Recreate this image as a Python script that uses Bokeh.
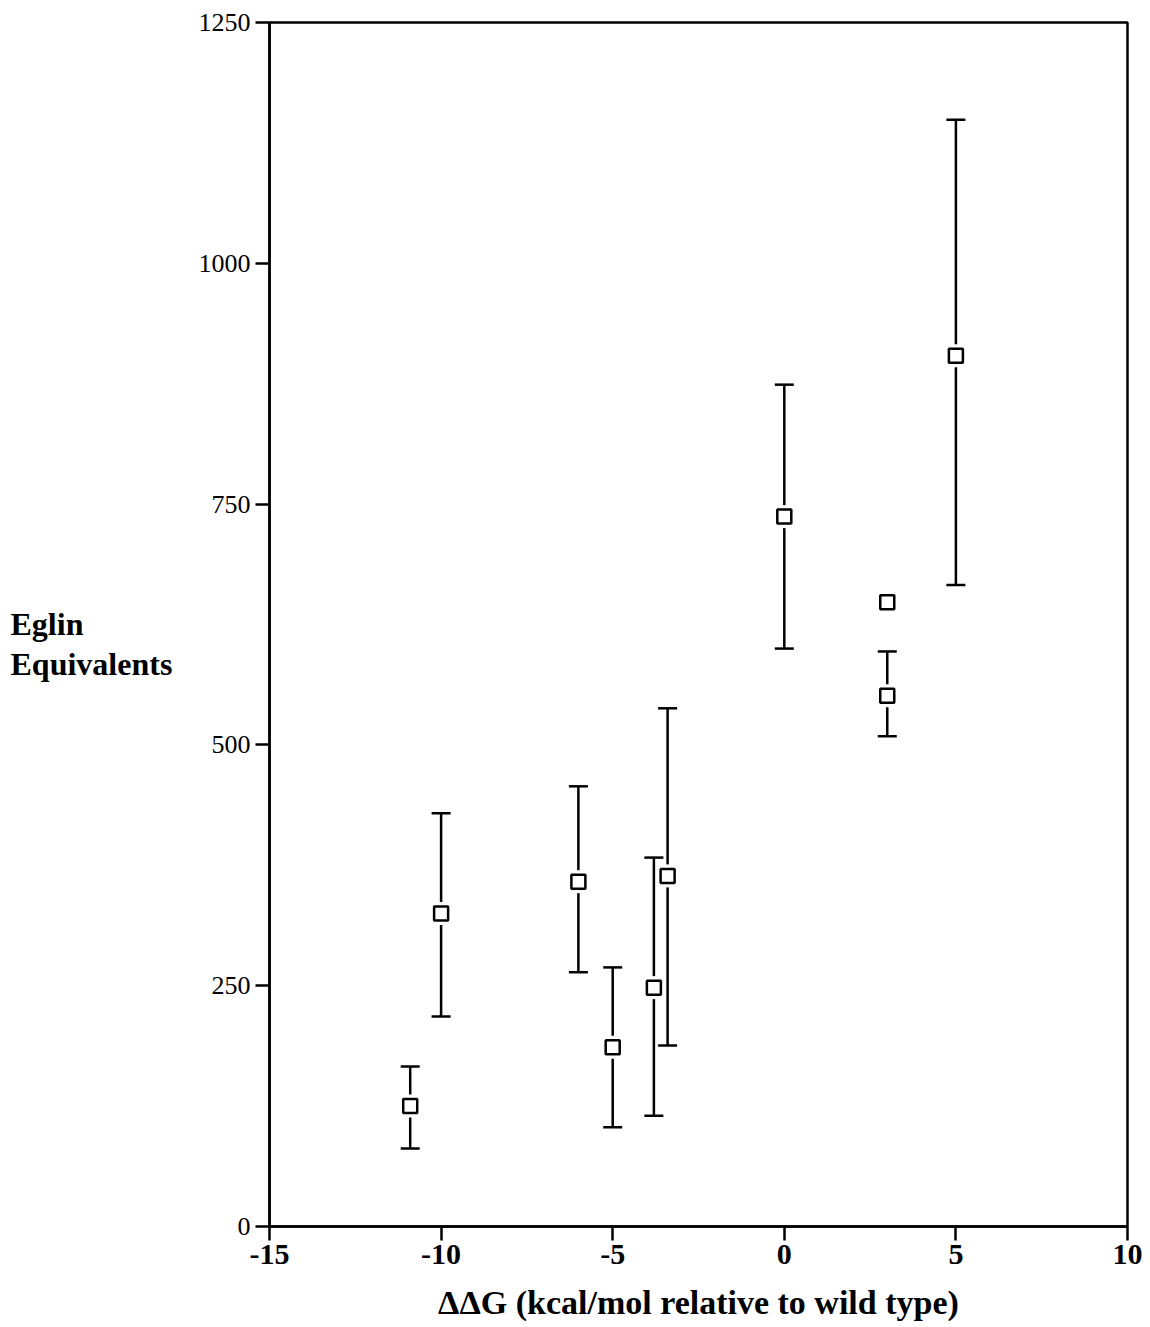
from bokeh.plotting import figure
from bokeh.layouts import row
from bokeh.models import Range1d, Whisker, ColumnDataSource, FixedTicker, TeeHead
from bokeh.core.properties import value
from bokeh.embed import file_html
from bokeh.resources import INLINE

# ---- data ----
ddg = [-10.9, -10.0, -6.0, -5.0, -3.8, -3.4, 0.0, 3.0, 3.0, 5.0]
eglin = [125, 325, 358, 186, 248, 364, 737, 648, 551, 904]
err_upper = [166, 429, 457, 269, 383, 538, 874, None, 597, 1149]
err_lower = [81, 218, 264, 103, 115, 188, 600, None, 509, 666]
x_ticks = [-15, -10, -5, 0, 5, 10]
x_tick_labels = ["-15", "-10", "-5", "0", "5", "10"]
y_ticks = [0, 250, 500, 750, 1000, 1250]
y_tick_labels = ["0", "250", "500", "750", "1000", "1250"]
x_title = "ΔΔG (kcal/mol relative to wild type)"
y_title_lines = ["Eglin", "Equivalents"]

SERIF = "Liberation Serif"
TOTAL_H = 1326
LEFT_W = 190

# ---- left strip carrying the (horizontal, left-aligned) y title ----
side = figure(width=LEFT_W, height=TOTAL_H, x_range=Range1d(0, LEFT_W), y_range=Range1d(TOTAL_H, 0),
              x_axis_type=None, y_axis_type=None, output_backend="svg", toolbar_location=None,
              min_border=0)
side.grid.visible = False
side.outline_line_color = None
side.background_fill_color = "white"
side.border_fill_color = "white"
side_src = ColumnDataSource(dict(x=[10, 10], y=[662, 706], t=y_title_lines))
side.text("x", "y", text="t", source=side_src, text_font=value(SERIF), text_font_size="32px",
          text_font_style="bold", text_color="black", text_align="left", text_baseline="alphabetic")

# ---- main chart ----
p = figure(
    frame_width=858, frame_height=1204,
    min_border_left=269 - LEFT_W, min_border_top=22, min_border_right=15,
    min_border_bottom=TOTAL_H - 22 - 1204,
    x_range=Range1d(-15, 10), y_range=Range1d(0, 1250),
    output_backend="svg", toolbar_location=None,
)
p.grid.visible = False
p.outline_line_color = "black"
p.outline_line_width = 2.5
p.background_fill_color = "white"
p.border_fill_color = "white"

p.xaxis.ticker = FixedTicker(ticks=x_ticks)
p.yaxis.ticker = FixedTicker(ticks=y_ticks)
p.xaxis.major_label_overrides = {t: s for t, s in zip(x_ticks, x_tick_labels)}
p.yaxis.major_label_overrides = {t: s for t, s in zip(y_ticks, y_tick_labels)}
for ax in (p.xaxis[0], p.yaxis[0]):
    ax.axis_line_width = 2.5
    ax.axis_line_color = "black"
    ax.major_tick_line_width = 2.5
    ax.major_tick_line_color = "black"
    ax.major_tick_out = 14
    ax.major_tick_in = 0
    ax.minor_tick_out = 0
    ax.minor_tick_in = 0
    ax.major_label_text_font = SERIF
    ax.major_label_text_color = "black"
    ax.axis_label_text_font = SERIF
    ax.axis_label_text_font_style = "bold"
    ax.axis_label_text_color = "black"

p.xaxis.major_label_text_font_size = "30px"
p.xaxis.major_label_text_font_style = "bold"
p.xaxis.major_label_standoff = 4
p.yaxis.major_label_text_font_size = "26px"
p.yaxis.major_label_text_font_style = "normal"
p.yaxis.major_label_standoff = 5

p.xaxis.axis_label = x_title
p.xaxis.axis_label_text_font_size = "34px"
p.xaxis.axis_label_standoff = 17

# error bars
wx, wu, wl = [], [], []
for x, u, l in zip(ddg, err_upper, err_lower):
    if u is not None and l is not None:
        wx.append(x); wu.append(u); wl.append(l)
wsrc = ColumnDataSource(dict(base=wx, upper=wu, lower=wl))
w = Whisker(base="base", upper="upper", lower="lower", source=wsrc, dimension="height",
            line_color="black", line_width=2.5, level="underlay",
            upper_head=TeeHead(size=19, line_width=2.5, line_color="black"),
            lower_head=TeeHead(size=19, line_width=2.5, line_color="black"))
p.add_layout(w)

src = ColumnDataSource(dict(x=ddg, y=eglin))
# white halo to leave a gap between bars and markers
p.scatter("x", "y", source=src, marker="square", size=23, fill_color="white", line_color=None)
p.scatter("x", "y", source=src, marker="square", size=14, fill_color="white",
          line_color="black", line_width=2.5)

layout = row(side, p, spacing=0)
open("out.html", "w").write(file_html(layout, INLINE))
